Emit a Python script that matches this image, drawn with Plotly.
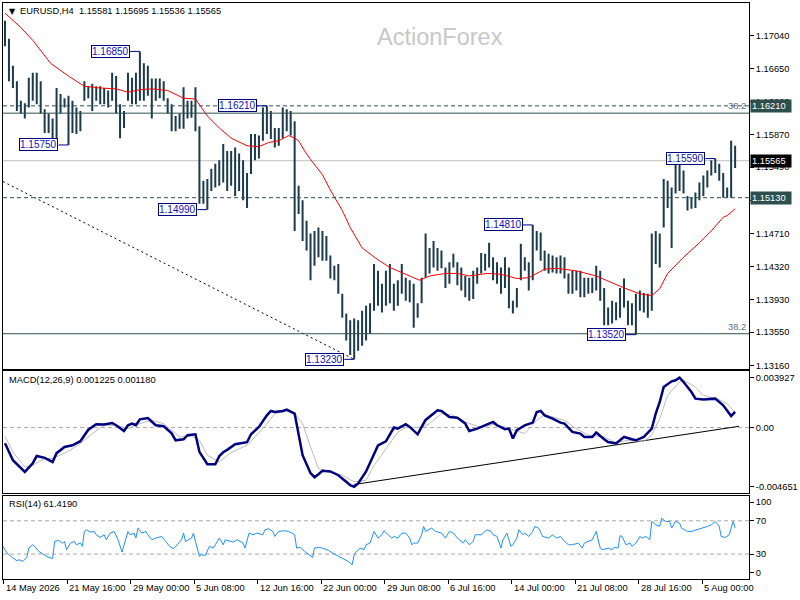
import plotly.graph_objects as go
from plotly.subplots import make_subplots

# ---- EURUSD H4: бары (по 2 свечи H4 на столбик) ----
bar_high = [
    1.1721, 1.1700, 1.1668, 1.1650, 1.1627, 1.1624, 1.1654, 1.1660, 1.1660, 1.1650,
    1.1617, 1.1612, 1.1606, 1.1642, 1.1635, 1.1630, 1.1633, 1.1627, 1.1619, 1.1615,
    1.1650, 1.1644, 1.1647, 1.1644, 1.1644, 1.1642, 1.1639, 1.1660, 1.1656, 1.1623,
    1.1615, 1.1660, 1.1654, 1.1660, 1.1685, 1.1671, 1.1668, 1.1653, 1.1653, 1.1653,
    1.1650, 1.1630, 1.1623, 1.1609, 1.1612, 1.1643, 1.1627, 1.1627, 1.1643, 1.1597,
    1.1533, 1.1535, 1.1547, 1.1553, 1.1557, 1.1576, 1.1568, 1.1568, 1.1572, 1.1565,
    1.1557, 1.1542, 1.1588, 1.1588, 1.1586, 1.1619, 1.1621, 1.1615, 1.1595, 1.1595,
    1.1619, 1.1617, 1.1615, 1.1603, 1.1527, 1.1510, 1.1486, 1.1471, 1.1474, 1.1478,
    1.1474, 1.1468, 1.1445, 1.1433, 1.1435, 1.1400, 1.1377, 1.1369, 1.1371, 1.1369,
    1.1380, 1.1386, 1.1389, 1.1435, 1.1427, 1.1412, 1.1427, 1.1435, 1.1412, 1.1416,
    1.1435, 1.1419, 1.1416, 1.1412, 1.1389, 1.1419, 1.1471, 1.1454, 1.1462, 1.1454,
    1.1451, 1.1431, 1.1437, 1.1447, 1.1437, 1.1431, 1.1421, 1.1419, 1.1427, 1.1431,
    1.1448, 1.1447, 1.1460, 1.1443, 1.1437, 1.1431, 1.1443, 1.1431, 1.1392, 1.1407,
    1.1459, 1.1443, 1.1437, 1.1481, 1.1474, 1.1472, 1.1451, 1.1447, 1.1445, 1.1443,
    1.1445, 1.1443, 1.1424, 1.1427, 1.1427, 1.1427, 1.1419, 1.1419, 1.1419, 1.1433,
    1.1427, 1.1407, 1.1384, 1.1392, 1.1390, 1.1407, 1.1418, 1.1392, 1.1389, 1.1400,
    1.1404, 1.1401, 1.1400, 1.1471, 1.1474, 1.1471, 1.1535, 1.1533, 1.1525, 1.1557,
    1.1559, 1.1545, 1.1515, 1.1513, 1.1519, 1.1531, 1.1539, 1.1545, 1.1557, 1.1559,
    1.1553, 1.1542, 1.1525, 1.1580, 1.1574,
]
bar_low = [
    1.1691, 1.1650, 1.1642, 1.1615, 1.1612, 1.1606, 1.1619, 1.1627, 1.1623, 1.1612,
    1.1589, 1.1589, 1.1583, 1.1582, 1.1612, 1.1619, 1.1575, 1.1589, 1.1588, 1.1591,
    1.1627, 1.1630, 1.1615, 1.1627, 1.1623, 1.1623, 1.1619, 1.1627, 1.1612, 1.1583,
    1.1595, 1.1627, 1.1623, 1.1623, 1.1627, 1.1627, 1.1633, 1.1606, 1.1627, 1.1630,
    1.1627, 1.1612, 1.1591, 1.1591, 1.1594, 1.1594, 1.1606, 1.1607, 1.1591, 1.1506,
    1.1506, 1.1499, 1.1521, 1.1525, 1.1527, 1.1531, 1.1521, 1.1527, 1.1515, 1.1521,
    1.1510, 1.1501, 1.1541, 1.1557, 1.1559, 1.1580, 1.1588, 1.1582, 1.1572, 1.1574,
    1.1583, 1.1591, 1.1586, 1.1474, 1.1494, 1.1462, 1.1451, 1.1416, 1.1433, 1.1443,
    1.1439, 1.1439, 1.1418, 1.1416, 1.1400, 1.1372, 1.1345, 1.1328, 1.1323, 1.1333,
    1.1339, 1.1345, 1.1353, 1.1380, 1.1386, 1.1378, 1.1386, 1.1389, 1.1380, 1.1386,
    1.1400, 1.1392, 1.1390, 1.1360, 1.1372, 1.1389, 1.1419, 1.1424, 1.1431, 1.1427,
    1.1430, 1.1407, 1.1412, 1.1431, 1.1410, 1.1404, 1.1396, 1.1392, 1.1394, 1.1412,
    1.1424, 1.1427, 1.1431, 1.1416, 1.1412, 1.1400, 1.1407, 1.1383, 1.1377, 1.1384,
    1.1416, 1.1427, 1.1404, 1.1416, 1.1451, 1.1439, 1.1427, 1.1424, 1.1425, 1.1424,
    1.1424, 1.1418, 1.1400, 1.1400, 1.1404, 1.1396, 1.1396, 1.1400, 1.1401, 1.1404,
    1.1392, 1.1363, 1.1363, 1.1365, 1.1369, 1.1372, 1.1384, 1.1363, 1.1363, 1.1352,
    1.1380, 1.1378, 1.1372, 1.1380, 1.1435, 1.1431, 1.1478, 1.1501, 1.1454, 1.1518,
    1.1521, 1.1518, 1.1498, 1.1500, 1.1501, 1.1510, 1.1515, 1.1525, 1.1539, 1.1542,
    1.1533, 1.1513, 1.1513, 1.1513, 1.1548,
]
last_ohlc = [1.15581, 1.15695, 1.15536, 1.15565]

# скользящая средняя (красная)
ma_idx = [
    0, 4, 7, 11.5, 16, 20, 24, 28, 31, 34,
    37, 41, 45, 48, 51, 54, 57, 61, 64, 66.5,
    69, 71.5, 73, 74, 75.5, 77, 80, 82, 85, 87,
    90, 92.5, 94,
    97, 100, 102, 104.5, 107, 111, 114, 117, 121.5, 125,
    129, 132, 136, 139, 144, 149, 151.5, 156, 160, 163,
    165, 167, 171, 175, 178, 181, 182, 184,
]
ma_val = [
    1.1730, 1.1713, 1.1698, 1.1671, 1.1656, 1.1644, 1.1642, 1.1641, 1.1637, 1.1640,
    1.1641, 1.1639, 1.1630, 1.1629, 1.1609, 1.1595, 1.1583, 1.1574, 1.1573, 1.1578,
    1.1580, 1.1586, 1.1583, 1.1580, 1.1568, 1.1558, 1.1540, 1.1522, 1.1498, 1.1478,
    1.1454, 1.1445, 1.1440,
    1.1431, 1.1425, 1.1421, 1.1416, 1.1421, 1.1424, 1.1424, 1.1421, 1.1424, 1.1423,
    1.1418, 1.1419, 1.1429, 1.1430, 1.1427, 1.1421, 1.1416, 1.1407, 1.1400, 1.1398,
    1.1406, 1.1424, 1.1443, 1.1460, 1.1474, 1.1490, 1.1492, 1.1500,
]

# MACD(12,26,9)
macd_idx = [
    0, 2, 5, 7, 8, 10, 12, 13, 15, 17,
    19, 21, 23, 25, 27, 28, 30, 31, 32, 33,
    34, 36, 38, 40, 42, 43, 45, 46, 48, 49,
    51, 53, 54, 55, 56, 57, 58, 61, 62, 64,
    66, 67, 68, 70, 71, 73, 74, 75, 77, 78,
    79, 80, 82, 84, 86, 87, 88, 89, 91, 92,
    94, 96, 98, 99, 101, 102, 104, 105, 106, 109,
    110, 112, 114, 116, 117, 119, 121, 123, 124, 126,
    127, 128, 129, 131, 133, 134, 135, 136, 138, 140,
    141, 143, 145, 146, 148, 149, 151, 152, 154, 156,
    158, 159, 161, 163, 164, 165, 166, 168, 169, 170,
    171, 173, 174, 176, 179, 181, 183, 184,
]
macd_val = [
    -0.00123, -0.00256, -0.00348, -0.00280, -0.00223, -0.00238, -0.00270, -0.00201, -0.00152, -0.00139,
    -0.00107, -0.00017, 0.00026, 0.00024, 0.00036, 0.00018, -0.00027, 0.00018, 0.00031, 0.00018,
    0.00065, 0.00075, 0.00018, 0.00010, -0.00045, -0.00100, -0.00092, -0.00060, -0.00053, -0.00191,
    -0.00288, -0.00288, -0.00225, -0.00194, -0.00175, -0.00155, -0.00131, -0.00115, -0.00053, 0.00005,
    0.00096, 0.00130, 0.00122, 0.00130, 0.00141, 0.00110, -0.00060, -0.00217, -0.00358, -0.00390,
    -0.00366, -0.00340, -0.00345, -0.00374, -0.00426, -0.00452, -0.004651, -0.00439, -0.00345, -0.00278,
    -0.00140, -0.00108, 0.00000, -0.00008, 0.00026, 0.00005, -0.00053, 0.00005, 0.00060, 0.00136,
    0.00130, 0.00083, 0.00078, 0.00031, -0.00027, -0.00008, 0.00018, 0.00044, 0.00018, -0.00013,
    -0.00008, -0.00086, -0.00021, 0.00018, 0.00039, 0.00122, 0.00130, 0.00096, 0.00071, 0.00039,
    0.00031, -0.00034, -0.00047, -0.00074, -0.00074, -0.00039, -0.00092, -0.00113, -0.00125, -0.00074,
    -0.00092, -0.00100, -0.00074, -0.00008, 0.00110, 0.00201, 0.00318, 0.00363, 0.00371, 0.003927,
    0.00358, 0.00279, 0.00227, 0.00220, 0.00227, 0.00175, 0.00091, 0.001225,
]
signal_idx = [
    0, 2, 5, 7, 10, 12, 16, 19, 22, 25,
    28, 31, 34, 37, 40, 42, 44, 47, 49, 51,
    54, 57, 61, 63, 66, 68, 71, 73, 75, 77,
    79, 82, 85, 88, 91, 93, 96, 99, 101, 105,
    107, 110, 113, 116, 120, 123, 126, 131, 134, 136,
    141, 144, 147, 151, 154, 157, 161, 163, 165, 167,
    170, 171, 174, 176, 180, 182, 184,
]
signal_val = [
    -0.00068, -0.00191, -0.00309, -0.00296, -0.00243, -0.00243, -0.00186, -0.00125, -0.00047, 0.00018,
    0.00018, -0.00008, 0.00031, 0.00057, 0.00031, -0.00021, -0.00074, -0.00068, -0.00100, -0.00217,
    -0.00270, -0.00196, -0.00139, -0.00074, 0.00031, 0.00110, 0.00128, 0.00110, 0.00031, -0.00152,
    -0.00321, -0.00348, -0.00374, -0.00426, -0.00413, -0.00296, -0.00165, -0.00037, 0.00002, 0.00002,
    0.00031, 0.00110, 0.00096, 0.00044, 0.00000, 0.00024, 0.00005, -0.00047, 0.00057, 0.00102,
    0.00057, -0.00008, -0.00060, -0.00074, -0.00118, -0.00100, -0.00107, -0.00060, 0.00071, 0.00253,
    0.00358, 0.00371, 0.00318, 0.00253, 0.00220, 0.00188, 0.00118,
]
macd_last = [0.001225, 0.001180]

# RSI(14)
rsi_idx = [
    -0.5, 0.5, 2, 3, 3.5, 4.5, 5.5, 6, 7, 7.5,
    8.5, 9.5, 10.5, 12, 12.5, 13.5, 14.5, 15, 15.5, 16.5,
    17.5, 18, 19, 19.5, 20, 20.5, 21.5, 22.5, 23, 24,
    25, 25.5, 26.5, 27.5, 28.5, 29.5, 30.5, 31, 31.5, 32.5,
    33, 33.5, 34.5, 35.5, 36, 37, 38, 39.5, 40.5, 41.5,
    42.5, 43.5, 44.5, 45, 45.5, 47, 47.5, 48, 49, 49.5,
    50, 50.5, 51.5, 52.5, 53, 54, 55, 55.5, 57.5, 58.5,
    60, 60.5, 61.5, 62.5, 63.5, 65, 65.5, 66.5, 67.5, 68,
    69, 70.5, 71.5, 73, 73.5, 74.5, 75.5, 76.5, 77.5, 78,
    79, 80, 81.5, 83, 85, 86.5, 87.5, 88, 88.5, 89.5,
    90.5, 91, 92, 93, 94, 95, 95.5, 96.5, 97.5, 98,
    99, 100, 101, 102, 102.5, 103, 104, 105, 105.5, 106,
    107.5, 108.5, 110, 111, 112, 113, 114, 115.5, 116, 117,
    118, 118.5, 120, 120.5, 121.5, 122.5, 123, 124, 125, 125.5,
    126.5, 127.5, 128, 129, 129.5, 130.5, 131, 132, 133, 133.5,
    134.5, 135.5, 137, 138, 139, 140, 141, 142, 143, 144.5,
    145.5, 146, 147, 148, 149, 150, 150.5, 152, 153, 153.5,
    154.5, 155, 155.5, 156.5, 157.5, 158, 159, 160, 160.5, 161.5,
    162.5, 163, 164, 165, 165.5, 166.5, 167.5, 168, 169, 170,
    170.5, 172, 173, 174.5, 175.5, 177, 178, 179, 180, 180.5,
    181.5, 182.5, 183.5, 184,
]
rsi_val = [
    39.2, 31.2, 25.2, 22.0, 23.2, 21.2, 26.0, 37.2, 41.2, 39.2,
    33.2, 30.0, 27.2, 24.4, 45.2, 46.4, 43.2, 45.2, 35.2, 43.2,
    45.2, 41.2, 43.2, 39.2, 57.2, 59.2, 56.4, 57.2, 53.2, 50.0,
    53.2, 47.2, 55.2, 57.2, 47.2, 32.4, 49.2, 57.2, 53.2, 55.2,
    49.2, 61.2, 55.2, 57.2, 53.2, 47.2, 49.2, 51.2, 45.2, 39.2,
    36.4, 41.2, 47.2, 55.2, 45.2, 49.2, 55.2, 45.2, 27.2, 29.2,
    29.2, 28.4, 39.2, 37.2, 41.2, 49.2, 41.2, 47.2, 44.4, 47.2,
    43.2, 37.2, 55.2, 53.2, 55.2, 53.2, 59.2, 60.4, 57.2, 51.2,
    57.2, 58.0, 57.2, 53.2, 37.2, 38.0, 33.2, 30.0, 26.0, 37.2,
    38.0, 37.2, 34.4, 30.0, 25.2, 21.2, 17.2, 29.2, 32.4, 37.2,
    35.2, 41.2, 43.2, 57.2, 49.2, 53.2, 58.0, 53.2, 49.2, 51.2,
    49.2, 55.2, 55.2, 49.2, 41.2, 43.2, 43.2, 53.2, 63.2, 57.2,
    61.2, 57.2, 55.2, 49.2, 57.2, 55.2, 49.2, 43.2, 47.2, 41.2,
    45.2, 53.2, 53.2, 55.2, 59.2, 57.2, 53.2, 51.2, 37.2, 47.2,
    55.2, 39.2, 41.2, 49.2, 59.2, 53.2, 55.2, 51.2, 57.2, 63.2,
    61.2, 51.2, 49.2, 53.2, 49.2, 51.2, 45.2, 41.2, 41.2, 43.2,
    37.2, 43.2, 45.2, 47.2, 57.2, 37.2, 35.2, 37.2, 35.2, 38.0,
    37.2, 52.0, 51.2, 41.2, 43.2, 39.2, 43.2, 51.2, 49.2, 51.2,
    47.2, 69.2, 65.2, 63.2, 73.2, 69.2, 69.2, 61.2, 69.2, 67.2,
    61.2, 57.2, 57.2, 59.2, 61.2, 63.2, 65.2, 69.2, 63.2, 51.2,
    50.0, 53.2, 69.2, 61.419,
]
rsi_last = 61.4190

# уровни и линии
price_ticks = [1.1704, 1.1665, 1.1626, 1.1587, 1.1549, 1.1510,
               1.1471, 1.1432, 1.1393, 1.1355, 1.1316]
swing_idx = [34, 16, 66, 51, 88, 133, 159, 179]
swing_price = [1.1685, 1.1575, 1.1621, 1.1499, 1.1323, 1.1481, 1.1352, 1.1559]
dashed_levels = [1.1621, 1.1513]
fib_levels = [1.16124, 1.13531]
bid_price = 1.15565
price_tl_idx = [-0.5, 88]
price_tl_val = [1.1532, 1.1323]
macd_tl_idx = [88, 185]
macd_tl_val = [-0.00447, 0.00010]

x_labels = ["14 May 2026", "21 May 16:00", "29 May 00:00", "5 Jun 08:00",
            "12 Jun 16:00", "22 Jun 00:00", "29 Jun 08:00", "6 Jul 16:00",
            "14 Jul 00:00", "21 Jul 08:00", "28 Jul 16:00", "5 Aug 00:00"]

FONT = "Liberation Sans, Arial, sans-serif"
NAVY = "#000080"
SLATE = "#2f4f4f"
BAR = "#1b3a4e"
FS = 9.3


# область построения: x 2..754 px, y 2..579 px
def px_x(p):
    return (p - 2) / 752


def px_y(p):
    return (579 - p) / 577


fig = make_subplots(rows=3, cols=1)

# бары: вертикальные линии high-low
bx, by = [], []
for i, (h, l) in enumerate(zip(bar_high, bar_low)):
    bx += [i, i, None]
    by += [l, h, None]

fig.add_trace(go.Scatter(x=price_tl_idx, y=price_tl_val, mode='lines',
                         line=dict(color='black', width=1, dash='2px,3px')), row=1, col=1)
fig.add_trace(go.Scatter(x=bx, y=by, mode='lines',
                         line=dict(color=BAR, width=2)), row=1, col=1)
fig.add_trace(go.Scatter(x=ma_idx, y=ma_val, mode='lines',
                         line=dict(color='#ff0000', width=1)), row=1, col=1)

fig.add_trace(go.Scatter(x=macd_tl_idx, y=macd_tl_val, mode='lines',
                         line=dict(color='black', width=1)), row=2, col=1)
fig.add_trace(go.Scatter(x=signal_idx, y=signal_val, mode='lines',
                         line=dict(color='#bcbcbc', width=1)), row=2, col=1)
fig.add_trace(go.Scatter(x=macd_idx, y=macd_val, mode='lines',
                         line=dict(color=NAVY, width=2.5)), row=2, col=1)

fig.add_trace(go.Scatter(x=rsi_idx, y=rsi_val, mode='lines',
                         line=dict(color='#1e90ff', width=1)), row=3, col=1)

shapes = []
# горизонтальные линии на ценовом графике
shapes.append(dict(type='line', xref='x domain', yref='y', x0=0, x1=1, y0=bid_price, y1=bid_price,
                   line=dict(color='#c0c0c0', width=1), layer='below'))
for lv in dashed_levels:
    shapes.append(dict(type='line', xref='x domain', yref='y', x0=0, x1=1, y0=lv, y1=lv,
                       line=dict(color=SLATE, width=1, dash='4px,3px')))
for lv in fib_levels:
    shapes.append(dict(type='line', xref='x domain', yref='y', x0=0, x1=1, y0=lv, y1=lv,
                       line=dict(color=SLATE, width=1)))
# уровни индикаторов
shapes.append(dict(type='line', xref='x2 domain', yref='y2', x0=0, x1=1, y0=0, y1=0,
                   line=dict(color='#a8a8a8', width=1, dash='4px,3px'), layer='below'))
for lv in [70, 30]:
    shapes.append(dict(type='line', xref='x3 domain', yref='y3', x0=0, x1=1, y0=lv, y1=lv,
                       line=dict(color='#a8a8a8', width=1, dash='4px,3px'), layer='below'))
# выноски к экстремумам
for i, p in zip(swing_idx, swing_price):
    shapes.append(dict(type='line', xref='x', yref='y', x0=i - 2.5, x1=i, y0=p, y1=p,
                       line=dict(color=NAVY, width=1)))

ann = []
ann.append(dict(text="▼", x=px_x(6), y=px_y(10.5), xref='paper', yref='paper',
                xanchor='left', yanchor='middle', showarrow=False,
                font=dict(family="DejaVu Sans", size=8, color='black')))
ann.append(dict(text="EURUSD,H4  " + " ".join(f"{v:.5f}" for v in last_ohlc),
                x=px_x(17), y=px_y(10.5), xref='paper', yref='paper',
                xanchor='left', yanchor='middle', showarrow=False,
                font=dict(family=FONT, size=FS, color='black')))
ann.append(dict(text="ActionForex", x=px_x(443), y=px_y(36), xref='paper', yref='paper',
                xanchor='center', yanchor='middle', showarrow=False,
                font=dict(family=FONT, size=23.5, color='#c8c8c8')))
ann.append(dict(text=f"MACD(12,26,9) {macd_last[0]:.6f} {macd_last[1]:.6f}",
                x=px_x(6), y=px_y(379.5), xref='paper', yref='paper',
                xanchor='left', yanchor='middle', showarrow=False,
                font=dict(family=FONT, size=FS, color='black')))
ann.append(dict(text=f"RSI(14) {rsi_last:.4f}",
                x=px_x(6), y=px_y(504), xref='paper', yref='paper',
                xanchor='left', yanchor='middle', showarrow=False,
                font=dict(family=FONT, size=FS, color='black')))

for i, p in zip(swing_idx, swing_price):
    ann.append(dict(text=f"{p:.5f}", x=i, y=p, xref='x', yref='y', xanchor='right',
                    yanchor='middle', xshift=-10, showarrow=False,
                    bgcolor='white', bordercolor=NAVY, borderwidth=1, borderpad=0,
                    font=dict(family=FONT, size=10, color='#1010c0')))

for lv in fib_levels:
    ann.append(dict(text="38.2", x=1, y=lv, xref='paper', yref='y', xanchor='right',
                    yanchor='bottom', xshift=-1, showarrow=False,
                    font=dict(family=FONT, size=FS, color='#5c7080')))

for lv, bg in [(dashed_levels[0], SLATE), (bid_price, 'black'), (dashed_levels[1], SLATE)]:
    ann.append(dict(text=f"{lv:.5f}", x=1, y=lv, xref='paper', yref='y', xanchor='left',
                    yanchor='middle', xshift=1, showarrow=False, bgcolor=bg,
                    borderpad=1, width=38, align='left',
                    font=dict(family=FONT, size=FS, color='white')))

for k, lab in enumerate(x_labels):
    ann.append(dict(text=lab, x=16 * k - 0.25, y=px_y(588), xref='x3', yref='paper',
                    xanchor='left', yanchor='middle', xshift=0, showarrow=False,
                    font=dict(family=FONT, size=FS, color='black')))

axis_common = dict(showgrid=False, zeroline=False, showline=True, mirror=True,
                   linecolor='black', linewidth=1)
xcommon = dict(axis_common, range=[-0.5, 187.5], showticklabels=False, ticks='')
ycommon = dict(axis_common, side='right', ticks='outside', ticklen=4, tickcolor='black',
               tickfont=dict(family=FONT, size=FS, color='black'))

fig.update_layout(
    width=800, height=600,
    margin=dict(l=2, r=46, t=2, b=21),
    paper_bgcolor='white', plot_bgcolor='white',
    showlegend=False, hovermode=False,
    shapes=shapes, annotations=ann,
    xaxis=dict(xcommon, domain=[0, 1]),
    xaxis2=dict(xcommon, domain=[0, 1]),
    xaxis3=dict(xcommon, domain=[0, 1], ticks='outside', ticklen=4, tickcolor='black',
                tickvals=[16 * k - 0.25 for k in range(len(x_labels))]),
    yaxis=dict(ycommon, domain=[px_y(368.5), 1], range=[1.13118, 1.17419],
               tickvals=price_ticks, ticktext=[f"{v:.5f}" for v in price_ticks]),
    yaxis2=dict(ycommon, domain=[px_y(492.7), px_y(370.7)], range=[-0.005127, 0.004437],
                tickvals=[0.003927, 0, -0.004651], ticktext=["0.003927", "0.00", "-0.004651"]),
    # у MT4 подписи 100 и 0 сдвинуты внутрь панели
    yaxis3=dict(ycommon, domain=[0, px_y(495.7)], range=[0, 100],
                tickvals=[92.5, 70, 30, 8], ticktext=["100", "70", "30", "0"]),
)

# убираем отступ body, чтобы график стоял в углу окна
fig.write_html("out.html", config={'displayModeBar': False},
               post_script="document.body.style.margin='0';")
